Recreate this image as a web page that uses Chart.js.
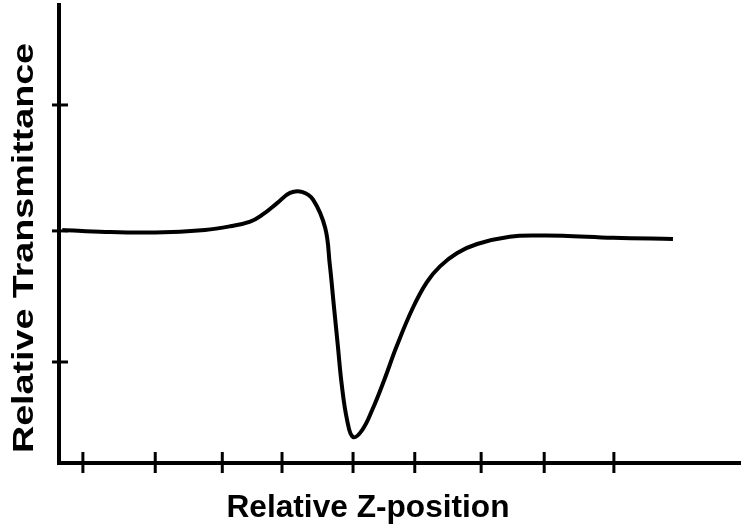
<!DOCTYPE html>
<html>
<head>
<meta charset="utf-8">
<script src="https://cdn.jsdelivr.net/npm/chart.js@4"></script>
<style>
  html, body { margin: 0; padding: 0; background: #fff; }
  #wrap { width: 745px; height: 529px; }
</style>
</head>
<body>
<div id="wrap"><canvas id="zscan"></canvas></div>
<script>
// Z-scan trace: relative position vs. relative transmittance
const zPos = [-4.38, -3.73, -2.98, -2.23, -1.85, -1.55, -1.36, -1.14, -0.95, -0.77, -0.60, -0.42,
  -0.35, -0.29, -0.23, -0.17, -0.09, 0, 0.14, 0.29, 0.47, 0.66, 0.90, 1.11, 1.31, 1.57, 1.87, 2.36, 2.82, 3.16, 3.92, 4.82];
const transmittance = [1.004, 0.996, 0.994, 1.004, 1.018, 1.036, 1.064, 1.109, 1.148, 1.152, 1.121, 1.012,
  0.868, 0.712, 0.556, 0.401, 0.265, 0.198, 0.226, 0.304, 0.420, 0.553, 0.700, 0.800, 0.862, 0.914, 0.949, 0.977, 0.982, 0.981, 0.973, 0.969];

const xTicks = [-4.07, -2.98, -1.97, -1.07, 0, 0.93, 1.93, 2.88, 3.93];
const yTicks = [0.49, 1.0, 1.49];

const xTitle = 'Relative Z-position';
const yTitle = 'Relative Transmittance';

// crossing tick marks and the two axis titles
const axisDecor = {
  id: 'axisDecor',
  afterDraw(chart) {
    const ctx = chart.ctx;
    const xs = chart.scales.x, ys = chart.scales.y;
    const area = chart.chartArea;
    ctx.save();
    ctx.strokeStyle = '#000';
    ctx.lineWidth = 3;
    xTicks.forEach(v => {
      const px = xs.getPixelForValue(v);
      ctx.beginPath();
      ctx.moveTo(px, area.bottom - 11);
      ctx.lineTo(px, area.bottom + 10);
      ctx.stroke();
    });
    yTicks.forEach(v => {
      const py = ys.getPixelForValue(v);
      ctx.beginPath();
      ctx.moveTo(area.left - 7, py);
      ctx.lineTo(area.left + 9, py);
      ctx.stroke();
    });

    ctx.fillStyle = '#000';
    ctx.font = 'bold 32px "Liberation Sans", Arial, sans-serif';
    ctx.textAlign = 'center';
    ctx.textBaseline = 'middle';
    const xw = ctx.measureText(xTitle).width;
    ctx.save();
    ctx.translate(368, 508);
    ctx.scale(283 / xw, 1);
    ctx.fillText(xTitle, 0, 0);
    ctx.restore();

    ctx.font = 'bold 29px "Liberation Sans", Arial, sans-serif';
    const w = ctx.measureText(yTitle).width;
    ctx.translate(25, 248);
    ctx.rotate(-Math.PI / 2);
    ctx.scale(410 / w, 1);
    ctx.fillText(yTitle, 0, 0);
    ctx.restore();
  }
};

new Chart(document.getElementById('zscan'), {
  type: 'line',
  data: {
    datasets: [{
      data: zPos.map((z, i) => ({ x: z, y: transmittance[i] })),
      borderColor: '#000',
      borderWidth: 4,
      pointRadius: 0,
      fill: false,
      tension: 0.4
    }]
  },
  options: {
    responsive: true,
    maintainAspectRatio: false,
    animation: false,
    layout: { padding: { left: 59, right: 5, top: 5, bottom: 66 } },
    plugins: { legend: { display: false }, tooltip: { enabled: false } },
    scales: {
      x: {
        type: 'linear',
        min: -4.43,
        max: 5.83,
        ticks: { display: false },
        grid: { display: false, drawTicks: false },
        border: { display: true, color: '#000', width: 4 }
      },
      y: {
        type: 'linear',
        min: 0.097,
        max: 1.879,
        ticks: { display: false },
        grid: { display: false, drawTicks: false },
        border: { display: true, color: '#000', width: 4 }
      }
    }
  },
  plugins: [axisDecor]
});
</script>
</body>
</html>
